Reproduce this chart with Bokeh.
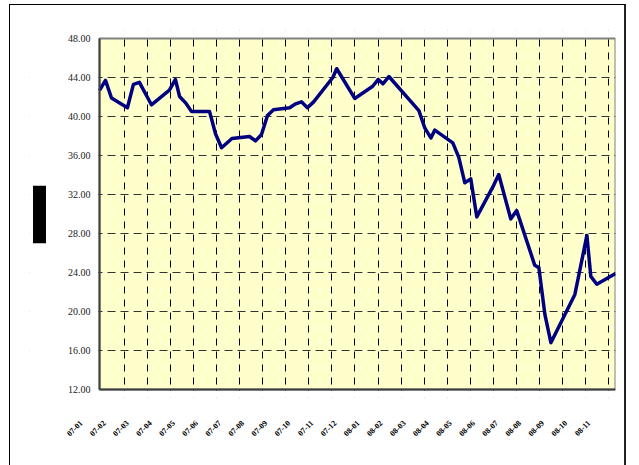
from math import pi
from bokeh.plotting import figure
from bokeh.models import (Range1d, FixedTicker, Label, LinearAxis, BoxAnnotation,
                          PrintfTickFormatter, InlineStyleSheet)
from bokeh.embed import file_html
from bokeh.resources import INLINE

# position along the time axis (in months from the first gridline reference)
months = [-0.07, 0.19, 0.45, 1.14, 1.40, 1.66, 2.18, 2.96, 3.22, 3.40, 3.66, 3.92,
          4.70, 4.96, 5.22, 5.67, 6.43, 6.69, 6.95, 7.21, 7.47, 8.17, 8.43, 8.68,
          8.94, 9.21, 10.04, 10.21, 10.99, 11.77, 12.01, 12.21, 12.47, 13.77,
          14.03, 14.29, 14.46, 15.24, 15.50, 15.76, 16.02, 16.28, 16.97, 17.23,
          17.75, 18.01, 18.79, 18.97, 19.23, 19.49, 20.53, 21.05, 21.22, 21.48, 22.29]
prices = [42.67, 43.7, 41.9, 40.9, 43.3, 43.5, 41.2, 42.7, 43.8, 42.05, 41.4, 40.5,
          40.5, 38.2, 36.8, 37.75, 37.95, 37.5, 38.15, 40.1, 40.7, 40.9, 41.3, 41.5,
          40.9, 41.5, 44.0, 44.9, 41.85, 43.1, 43.8, 43.35, 44.1, 40.6,
          38.8, 37.8, 38.6, 37.3, 35.8, 33.2, 33.6, 29.7, 32.75, 34.05,
          29.5, 30.35, 24.75, 24.5, 19.7, 16.8, 21.75, 27.8, 23.6, 22.8, 23.9]

x_labels = ["07-01", "07-02", "07-03", "07-04", "07-05", "07-06", "07-07", "07-08",
            "07-09", "07-10", "07-11", "07-12", "08-01", "08-02", "08-03", "08-04",
            "08-05", "08-06", "08-07", "08-08", "08-09", "08-10", "08-11"]
x_grid = list(range(1, 23))
y_ticks = [12, 16, 20, 24, 28, 32, 36, 40, 44, 48]
y_title = "股价（元/股）"

X0, X1 = -0.07, 22.29          # extent of the plot area
Y0, Y1 = 12, 48
label_ticks = [k - 0.87 for k in range(len(x_labels))]

p = figure(width=627, height=459, output_backend="svg", toolbar_location=None,
           x_range=Range1d(-3.103, X1), y_range=Range1d(11.18, 48.82),
           min_border_left=29, min_border_right=12, min_border_top=30, min_border_bottom=62)
p.frame_width = 586
p.frame_height = 367
p.stylesheets = [InlineStyleSheet(css=(
    ":host { position: relative; overflow: visible; }"
    ":host::after { content: ''; position: absolute; left: 9px; top: 4px; right: 1px;"
    " bottom: -20px; border: 1px solid #000; border-right: 2px solid #222;"
    " pointer-events: none; }"))]
p.background_fill_color = "#FFFFFF"
p.border_fill_color = "#FFFFFF"
p.outline_line_color = None

# plot area
p.add_layout(BoxAnnotation(left=X0, right=X1, bottom=Y0, top=Y1, level="image",
                           fill_color="#FFFFCC", fill_alpha=1.0,
                           line_color="#808080", line_width=2, line_alpha=1.0))

# x axis: labels only
p.xaxis.ticker = FixedTicker(ticks=label_ticks)
p.xaxis.major_label_overrides = {t: s for t, s in zip(label_ticks, x_labels)}
p.xaxis.major_label_orientation = pi / 4
p.xaxis.major_label_text_font = "Liberation Serif"
p.xaxis.major_label_text_font_size = "8px"
p.xaxis.major_label_text_font_style = "bold"
p.xaxis.major_label_text_color = "#000000"
p.xaxis.major_label_standoff = 24
p.xaxis.major_tick_out = 0
p.xaxis.major_tick_in = 0
p.xaxis.minor_tick_line_color = None
p.xaxis.axis_line_color = None

# x axis line along the plot area only
p.add_layout(LinearAxis(ticker=FixedTicker(ticks=[]), fixed_location=Y0, bounds=(X0, X1),
                        axis_line_color="#404040", axis_line_width=2,
                        minor_tick_line_color=None), "below")

# y axis at the plot area's left edge
p.yaxis.fixed_location = X0
p.yaxis.bounds = (Y0, Y1)
p.yaxis.ticker = FixedTicker(ticks=y_ticks)
p.yaxis.formatter = PrintfTickFormatter(format="%.2f")
p.yaxis.major_tick_out = 0
p.yaxis.major_tick_in = 0
p.yaxis.minor_tick_line_color = None
p.yaxis.axis_line_color = "#404040"
p.yaxis.axis_line_width = 2
p.yaxis.major_label_standoff = 9
p.yaxis.major_label_text_font = "Liberation Serif"
p.yaxis.major_label_text_font_size = "10px"
p.yaxis.major_label_text_color = "#222222"

# grids
p.xgrid.ticker = FixedTicker(ticks=x_grid)
p.xgrid.grid_line_color = "#000000"
p.xgrid.grid_line_dash = "7 6"
p.xgrid.grid_line_width = 1
p.ygrid.ticker = FixedTicker(ticks=y_ticks[1:-1])
p.ygrid.grid_line_color = "#333333"
p.ygrid.grid_line_dash = "8 5"
p.ygrid.grid_line_width = 1

# keep the grids inside the plot area
for kw in (dict(left=-3.6, right=X0 - 0.05), dict(bottom=Y1 + 0.15, top=49.5),
           dict(bottom=10.5, top=Y0 - 0.15)):
    p.add_layout(BoxAnnotation(level="underlay", fill_color="#FFFFFF",
                               fill_alpha=1.0, line_color=None, **kw))

p.line(months, prices, line_color="#000080", line_width=3.5, line_join="round")

# y-axis title (rendered as solid block in the reference)
p.add_layout(Label(x=-2.67, y=29.95, text=y_title, angle=pi / 2,
                   text_align="center", text_baseline="middle",
                   text_font="Noto Sans CJK SC", text_font_size="9px",
                   text_color="#000000", background_fill_color="#000000"))

open("out.html", "w").write(file_html(p, INLINE))
